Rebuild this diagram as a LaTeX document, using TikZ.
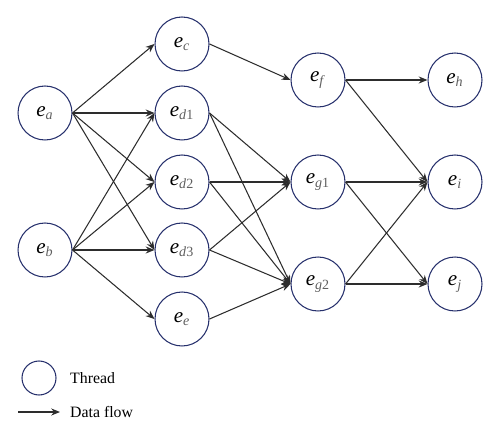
\documentclass[tikz,border=0pt]{standalone}
\usepackage{fontspec}
\setmainfont{Liberation Serif}
\usetikzlibrary{arrows.meta, positioning}

\definecolor{threadblue}{RGB}{38,48,108}
\definecolor{flowgray}{RGB}{45,45,45}
\definecolor{subgray}{RGB}{95,95,95}

\newcommand{\thr}[2]{\textit{e}\textsubscript{\color{subgray}\textit{#1}#2}}

\begin{document}
\begin{tikzpicture}[
  x=0.02cm, y=-0.02cm,
  thread/.style={circle, draw=threadblue, line width=0.6pt, minimum size=1.08cm, inner sep=0pt, font=\large},
  flow/.style={-{Stealth[length=5pt,width=4pt]}, line width=0.6pt, every edge/.append style={draw=flowgray}}]

  \useasboundingbox (0,0) rectangle (500,435);

  % threads
  \node[thread] (ea) at (45,113) {\thr{a}{}};
  \node[thread] (eb) at (45,250) {\thr{b}{}};
  \node[thread] (ec) at (182,44) {\thr{c}{}};
  \node[thread] (ed1) at (182,113) {\thr{d}{1}};
  \node[thread] (ed2) at (182,182) {\thr{d}{2}};
  \node[thread] (ed3) at (182,250) {\thr{d}{3}};
  \node[thread] (ee) at (182,319) {\thr{e}{}};
  \node[thread] (ef) at (318,80) {\thr{f}{}};
  \node[thread] (eg1) at (318,182) {\thr{g}{1}};
  \node[thread] (eg2) at (318,284) {\thr{g}{2}};
  \node[thread] (eh) at (455,80) {\thr{h}{}};
  \node[thread] (ei) at (455,182) {\thr{i}{}};
  \node[thread] (ej) at (455,284) {\thr{j}{}};

  % data flow
  \path[flow]
    (ea.east) edge (ec.west)
    (ea.east) edge (ed1.west)
    (ea.east) edge (ed2.west)
    (ea.east) edge (ed3.west)
    (eb.east) edge (ed1.west)
    (eb.east) edge (ed2.west)
    (eb.east) edge (ed3.west)
    (eb.east) edge (ee.west);
  \path[flow]
    (ec.east) edge (ef.west)
    (ed1.east) edge (eg1.west)
    (ed1.east) edge (eg2.west)
    (ed2.east) edge (eg1.west)
    (ed2.east) edge (eg2.west)
    (ed3.east) edge (eg1.west)
    (ed3.east) edge (eg2.west)
    (ee.east) edge (eg2.west);
  \path[flow]
    (ef.east) edge (eh.west)
    (ef.east) edge (ei.west)
    (eg1.east) edge (ei.west)
    (eg1.east) edge (ej.west)
    (eg2.east) edge (ei.west)
    (eg2.east) edge (ej.west);

  % legend
  \node[thread, minimum size=0.68cm] (lt) at (39,378) {};
  \node[anchor=west, font=\small] (ltext) at (64,378) {Thread};
  \coordinate (lf) at (18,412);
  \coordinate (lfe) at (60,412);
  \path[flow] (lf) edge (lfe);
  \node[anchor=west, font=\small] (lftext) at (64,412) {Data flow};
\end{tikzpicture}
\end{document}
